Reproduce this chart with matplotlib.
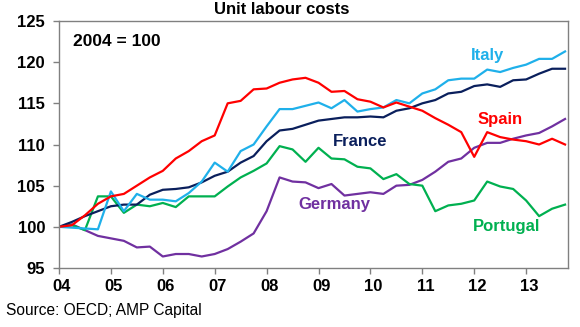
import numpy as np
import matplotlib.pyplot as plt
from matplotlib.transforms import ScaledTranslation

plt.rcParams['font.family'] = ['Liberation Sans', 'DejaVu Sans']

# quarterly data, 2004 Q1 .. 2013 Q4 (2004 = 100)
quarters = 2004 + np.arange(40) / 4

italy = [100.0, 99.9, 99.8, 99.7, 104.3, 101.9, 104.0, 103.3, 103.3, 103.1,
         104.1, 105.5, 107.8, 106.7, 109.2, 110.0, 112.2, 114.3, 114.3, 114.7,
         115.1, 114.4, 115.4, 114.0, 114.3, 114.5, 115.4, 115.0, 116.2, 116.7,
         117.8, 118.0, 118.0, 119.1, 118.8, 119.3, 119.7, 120.4, 120.4, 121.3]

spain = [100.0, 100.2, 101.4, 102.8, 103.7, 104.0, 105.0, 106.0, 106.8, 108.3,
         109.2, 110.4, 111.1, 115.0, 115.3, 116.7, 116.8, 117.5, 117.9, 118.1,
         117.5, 116.4, 116.5, 115.5, 115.2, 114.5, 115.1, 114.6, 114.1, 113.2,
         112.4, 111.5, 108.5, 111.5, 110.9, 110.6, 110.4, 110.0, 110.7, 110.0]

france = [100.0, 100.6, 101.3, 101.9, 102.5, 102.7, 102.7, 103.9, 104.5, 104.6,
          104.8, 105.4, 106.2, 106.7, 107.8, 108.6, 110.4, 111.7, 111.9, 112.4,
          112.9, 113.1, 113.3, 113.3, 113.4, 113.3, 114.1, 114.4, 115.0, 115.4,
          116.2, 116.4, 117.1, 117.3, 117.0, 117.8, 117.9, 118.6, 119.2, 119.2]

portugal = [100.0, 100.2, 99.6, 103.7, 103.7, 101.7, 102.7, 102.5, 102.9, 102.4,
            103.7, 103.7, 103.7, 104.9, 106.0, 106.8, 107.7, 109.8, 109.4, 107.9,
            109.6, 108.3, 108.2, 107.3, 107.1, 105.8, 106.4, 105.2, 105.0, 101.9,
            102.6, 102.8, 103.2, 105.5, 104.9, 104.6, 103.2, 101.3, 102.2, 102.7]

germany = [100.0, 100.3, 99.6, 98.9, 98.6, 98.3, 97.5, 97.6, 96.4, 96.7,
           96.7, 96.4, 96.7, 97.3, 98.2, 99.2, 101.9, 106.0, 105.5, 105.4,
           104.7, 105.2, 103.8, 104.0, 104.2, 104.0, 105.0, 105.1, 105.7, 106.7,
           107.9, 108.3, 109.6, 110.2, 110.2, 110.7, 111.1, 111.4, 112.2, 113.1]

year_ticks = list(range(2004, 2014))
year_labels = ['04', '05', '06', '07', '08', '09', '10', '11', '12', '13']

c_italy = '#1FB0EA'
c_spain = '#FF0000'
c_france = '#0A1F5C'
c_portugal = '#00B050'
c_germany = '#7030A0'

fig = plt.figure(figsize=(5.8, 3.27), dpi=100)
ax = fig.add_axes([0.1017, 0.1804, 0.877, 0.7554])

lw = 1.6
ax.plot(quarters, germany, color=c_germany, lw=lw)
ax.plot(quarters, portugal, color=c_portugal, lw=lw)
ax.plot(quarters, france, color=c_france, lw=lw)
ax.plot(quarters, italy, color=c_italy, lw=lw)
ax.plot(quarters, spain, color=c_spain, lw=lw)

ax.set_xlim(2004, 2013.8)
ax.set_ylim(95, 125)
ax.set_yticks([95, 100, 105, 110, 115, 120, 125])
ax.set_xticks(year_ticks)
ax.set_xticklabels(year_labels)

for s in ax.spines.values():
    s.set_color('#808080')
    s.set_linewidth(1.0)
ax.tick_params(axis='both', direction='out', length=4, width=1.0, color='#808080',
               labelsize=12)
ax.tick_params(axis='y', pad=6)
ax.tick_params(axis='x', pad=4)
for lab in ax.get_xticklabels() + ax.get_yticklabels():
    lab.set_fontweight('bold')
# category labels sit a little right of the tick marks
off = ScaledTranslation(3 / 100, 0, fig.dpi_scale_trans)
for lab in ax.get_xticklabels():
    lab.set_transform(lab.get_transform() + off)

fs = 12
ax.text(0.028, 0.915, '2004 = 100', transform=ax.transAxes, fontsize=12.5,
        fontweight='bold', va='center', ha='left')
ax.text(2012.25, 120.8, 'Italy', color=c_italy, fontsize=fs, fontweight='bold', ha='center', va='center')
ax.text(2012.5, 113.0, 'Spain', color=c_spain, fontsize=fs, fontweight='bold', ha='center', va='center')
ax.text(2009.8, 110.4, 'France', color=c_france, fontsize=fs, fontweight='bold', ha='center', va='center')
ax.text(2009.3, 102.7, 'Germany', color=c_germany, fontsize=fs, fontweight='bold', ha='center', va='center')
ax.text(2012.63, 100.1, 'Portugal', color=c_portugal, fontsize=fs, fontweight='bold', ha='center', va='center')

fig.text(282 / 580, 1 - 10 / 327, 'Unit labour costs', fontsize=12, fontweight='bold',
         ha='center', va='center')
fig.text(6 / 580, 1 - 310 / 327, 'Source: OECD; AMP Capital', fontsize=11.2,
         ha='left', va='center')

fig.savefig('out.png', dpi=100)
